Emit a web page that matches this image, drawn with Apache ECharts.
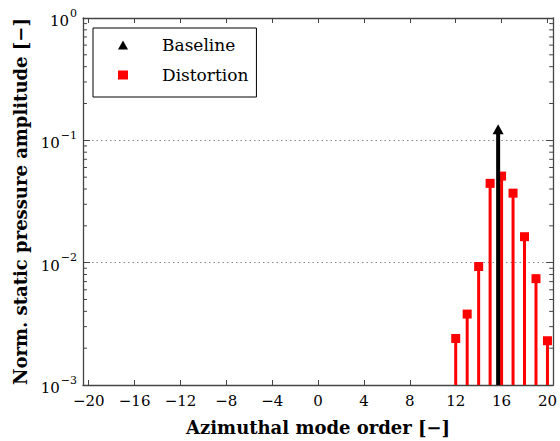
<!DOCTYPE html>
<html>
<head>
<meta charset="utf-8">
<script src="https://cdn.jsdelivr.net/npm/echarts@6/dist/echarts.min.js"></script>
<style>
html,body{margin:0;padding:0;background:#fff;}
#chart{width:560px;height:441px;}
</style>
</head>
<body>
<div id="chart"></div>
<script>
// ---- data ----
const distortionModes = [12, 13, 14, 15, 16, 17, 18, 19, 20];
const distortionAmps = [0.0024, 0.0038, 0.0093, 0.0445, 0.051, 0.037, 0.0163, 0.0074, 0.0023];
const baselineModes = [15.7];
const baselineAmps = [0.123];
const xTickValues = [-20, -16, -12, -8, -4, 0, 4, 8, 12, 16, 20];
const yMinorTicks = [0.002,0.003,0.004,0.005,0.006,0.007,0.008,0.009,
                     0.02,0.03,0.04,0.05,0.06,0.07,0.08,0.09,
                     0.2,0.3,0.4,0.5,0.6,0.7,0.8,0.9];
const xMin = -20.5, xMax = 20.5, yMin = 0.001, yMax = 1;

const FONT = '"DejaVu Serif", "Liberation Serif", serif';
const AXIS_COLOR = '#444';

const distPts = distortionModes.map((m, i) => [m, distortionAmps[i]]);
const basePts = baselineModes.map((m, i) => [m, baselineAmps[i]]);

function stemRender(color, width) {
  return function (params, api) {
    const x = api.value(0), y = api.value(1);
    const p1 = api.coord([x, yMin]);
    const p2 = api.coord([x, y]);
    return {
      type: 'line',
      shape: {x1: p1[0], y1: p1[1], x2: p2[0], y2: p2[1]},
      style: {stroke: color, lineWidth: width}
    };
  };
}

const chart = echarts.init(document.getElementById('chart'), null, {renderer: 'svg'});

const supFmt = function (v) {
  const e = Math.round(Math.log10(v));
  const es = e < 0 ? '\u2212' + Math.abs(e) : String(e);
  return '{b|10}{s|' + es + '}';
};

const option = {
  animation: false,
  backgroundColor: '#fff',
  grid: {left: 83, right: 4, top: 18, bottom: 56, containLabel: false},
  legend: {
    orient: 'vertical',
    left: 93, top: 28,
    backgroundColor: '#fff',
    borderColor: '#000', borderWidth: 1, borderRadius: 0,
    padding: [7, 8, 12, 25],
    itemWidth: 10, itemHeight: 9, itemGap: 10,
    textStyle: {fontFamily: FONT, fontSize: 17, color: '#000', lineHeight: 20, padding: [0, 0, 0, 29]},
    data: [{name: 'Baseline', icon: 'triangle'}, {name: 'Distortion', icon: 'rect'}]
  },
  xAxis: [{
    type: 'value', min: xMin, max: xMax, position: 'bottom',
    name: 'Azimuthal mode order [\u2212]', nameLocation: 'middle', nameGap: 33,
    nameTextStyle: {fontFamily: FONT, fontSize: 18, fontWeight: 'bold', color: '#000'},
    axisLine: {show: true, onZero: false, lineStyle: {color: AXIS_COLOR, width: 1.3}},
    axisTick: {show: true, inside: true, length: 5, lineStyle: {color: AXIS_COLOR}, customValues: xTickValues},
    axisLabel: {fontFamily: FONT, fontSize: 15, color: '#000', margin: 8, customValues: xTickValues,
      formatter: v => String(v).replace('-', '\u2212')},
    splitLine: {show: false}
  }, {
    type: 'value', min: xMin, max: xMax, position: 'top',
    axisLine: {show: true, onZero: false, lineStyle: {color: AXIS_COLOR, width: 1.3}},
    axisTick: {show: true, inside: true, length: 5, lineStyle: {color: AXIS_COLOR}, customValues: xTickValues},
    axisLabel: {show: false},
    splitLine: {show: false}
  }],
  yAxis: [{
    type: 'log', logBase: 10, min: yMin, max: yMax, position: 'left',
    name: 'Norm. static pressure amplitude [\u2212]', nameLocation: 'middle', nameGap: 47, nameRotate: 90,
    nameTextStyle: {fontFamily: FONT, fontSize: 18, fontWeight: 'bold', color: '#000'},
    axisLine: {show: true, onZero: false, lineStyle: {color: AXIS_COLOR, width: 1.3}},
    axisTick: {show: true, inside: true, length: 7, lineStyle: {color: AXIS_COLOR}},
    axisLabel: {margin: 6, formatter: supFmt,
      rich: {
        b: {fontFamily: FONT, fontSize: 15, color: '#000', verticalAlign: 'bottom', padding: [6, 0, 0, 0]},
        s: {fontFamily: FONT, fontSize: 11, color: '#000', verticalAlign: 'top', padding: [0, 0, 8, 1]}
      }},
    splitLine: {show: true, lineStyle: {color: '#888', type: [1.5, 3], width: 1}}
  }, {
    type: 'log', logBase: 10, min: yMin, max: yMax, position: 'right',
    axisLine: {show: true, onZero: false, lineStyle: {color: AXIS_COLOR, width: 1.3}},
    axisTick: {show: true, inside: true, length: 7, lineStyle: {color: AXIS_COLOR}},
    axisLabel: {show: false},
    splitLine: {show: false}
  }],
  series: [
    {
      type: 'custom', name: 'yMinor', xAxisIndex: 0, yAxisIndex: 0, silent: true,
      data: yMinorTicks.map(v => [xMin, v]),
      renderItem: function (params, api) {
        const v = api.value(1);
        const l = api.coord([xMin, v]);
        const r = api.coord([xMax, v]);
        return {type: 'group', children: [
          {type: 'line', shape: {x1: l[0], y1: l[1], x2: l[0] + 4, y2: l[1]}, style: {stroke: AXIS_COLOR, lineWidth: 1}},
          {type: 'line', shape: {x1: r[0], y1: r[1], x2: r[0] - 4, y2: r[1]}, style: {stroke: AXIS_COLOR, lineWidth: 1}}
        ]};
      }
    },
    {
      type: 'custom', name: 'distStem', xAxisIndex: 0, yAxisIndex: 0, silent: true,
      data: distPts, renderItem: stemRender('#ff0000', 3)
    },
    {
      type: 'scatter', name: 'Distortion', xAxisIndex: 0, yAxisIndex: 0,
      symbol: 'rect', symbolSize: 9, itemStyle: {color: '#ff0000', opacity: 1},
      data: distPts, z: 3
    },
    {
      type: 'custom', name: 'baseStem', xAxisIndex: 0, yAxisIndex: 0, silent: true,
      data: basePts, renderItem: stemRender('#000000', 4), z: 4
    },
    {
      type: 'scatter', name: 'Baseline', xAxisIndex: 0, yAxisIndex: 0,
      symbol: 'triangle', symbolSize: [11, 10], itemStyle: {color: '#000', opacity: 1},
      data: basePts, z: 5
    }
  ]
};
chart.setOption(option);
</script>
</body>
</html>
